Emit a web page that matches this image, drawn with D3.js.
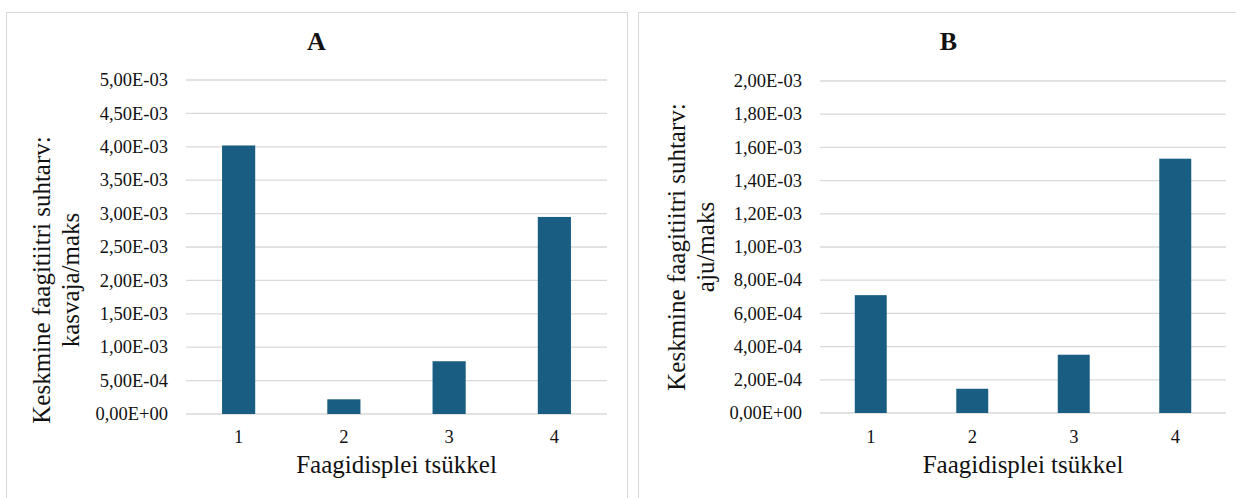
<!DOCTYPE html>
<html>
<head>
<meta charset="utf-8">
<script src="https://cdn.jsdelivr.net/npm/d3@7"></script>
<style>
  body { margin: 0; background: #fff; }
  svg text { font-family: "Liberation Serif", "DejaVu Serif", serif; fill: #111; }
</style>
</head>
<body>
<div id="chart"></div>
<script>
var cycles = ["1", "2", "3", "4"];
var tumorValues = [4.02e-3, 2.2e-4, 7.9e-4, 2.95e-3];
var brainValues = [7.1e-4, 1.46e-4, 3.51e-4, 1.532e-3];
var tumorTicks = [0, 5e-4, 1e-3, 1.5e-3, 2e-3, 2.5e-3, 3e-3, 3.5e-3, 4e-3, 4.5e-3, 5e-3];
var brainTicks = [0, 2e-4, 4e-4, 6e-4, 8e-4, 1e-3, 1.2e-3, 1.4e-3, 1.6e-3, 1.8e-3, 2e-3];

var width = 1236, height = 498;
var barColor = "#195e82";
var serif = "'Liberation Serif', 'DejaVu Serif', serif";

var svg = d3.select("#chart").append("svg")
    .attr("width", width)
    .attr("height", height);

// 5,00E-03 style labels
function fmt(v) {
  var s = v.toExponential(2).split("e");
  var m = s[0].replace(".", ",");
  var e = parseInt(s[1], 10);
  var sign = e < 0 ? "-" : "+";
  var ee = Math.abs(e);
  return m + "E" + sign + (ee < 10 ? "0" + ee : ee);
}

var panels = [
  { title: "A", values: tumorValues, ticks: tumorTicks, max: 5e-3,
    box: [6, 12, 621], plot: [186, 607, 80, 414],
    ytitle: ["Keskmine faagitiitri suhtarv:", "kasvaja/maks"], ytx: [50, 79], yty: 280 },
  { title: "B", values: brainValues, ticks: brainTicks, max: 2e-3,
    box: [638, 12, 621], plot: [820, 1226, 81, 413],
    ytitle: ["Keskmine faagitiitri suhtarv:", "aju/maks"], ytx: [685, 714], yty: 247 }
];

panels.forEach(function(p) {
  var g = svg.append("g").attr("font-family", serif);

  g.append("rect")
      .attr("x", p.box[0] + 0.5)
      .attr("y", p.box[1] + 0.5)
      .attr("width", p.box[2])
      .attr("height", height)
      .attr("fill", "#fff")
      .attr("stroke", "#d9d9d9");

  var x = d3.scaleBand()
      .domain(cycles)
      .range([p.plot[0], p.plot[1]])
      .paddingInner(0.685)
      .paddingOuter(0.3425);

  var y = d3.scaleLinear()
      .domain([0, p.max])
      .range([p.plot[3], p.plot[2]]);

  // gridlines
  g.append("g").selectAll("line")
    .data(p.ticks)
    .enter().append("line")
      .attr("x1", p.plot[0])
      .attr("x2", p.plot[1])
      .attr("y1", function(d) { return y(d); })
      .attr("y2", function(d) { return y(d); })
      .attr("stroke", "#d9d9d9")
      .attr("stroke-width", 1.3);

  // y tick labels
  g.append("g").selectAll("text")
    .data(p.ticks)
    .enter().append("text")
      .attr("x", p.plot[0] - 18)
      .attr("y", function(d) { return y(d); })
      .attr("dy", "0.33em")
      .attr("text-anchor", "end")
      .style("font-family", serif)
      .style("font-size", "18.5px")
      .text(fmt);

  g.append("g").selectAll("rect")
    .data(p.values)
    .enter().append("rect")
      .attr("x", function(d, i) { return x(cycles[i]); })
      .attr("y", function(d) { return y(d); })
      .attr("width", x.bandwidth())
      .attr("height", function(d) { return y(0) - y(d); })
      .attr("fill", barColor);

  // x tick labels
  g.append("g").selectAll("text")
    .data(cycles)
    .enter().append("text")
      .attr("x", function(d) { return x(d) + x.bandwidth() / 2; })
      .attr("y", 443)
      .attr("text-anchor", "middle")
      .style("font-family", serif)
      .style("font-size", "18.5px")
      .text(function(d) { return d; });

  g.append("text")
      .attr("x", (p.plot[0] + p.plot[1]) / 2)
      .attr("y", 473)
      .attr("text-anchor", "middle")
      .style("font-family", serif)
      .style("font-size", "25px")
      .text("Faagidisplei tsükkel");

  g.append("text")
      .attr("x", p.box[0] + p.box[2] / 2)
      .attr("y", 50)
      .attr("text-anchor", "middle")
      .style("font-family", serif)
      .style("font-size", "26px")
      .style("font-weight", "bold")
      .text(p.title);

  p.ytitle.forEach(function(t, i) {
    g.append("text")
        .attr("transform", "translate(" + p.ytx[i] + "," + p.yty + ") rotate(-90)")
        .attr("text-anchor", "middle")
        .style("font-family", serif)
        .style("font-size", "25px")
        .text(t);
  });
});
</script>
</body>
</html>
